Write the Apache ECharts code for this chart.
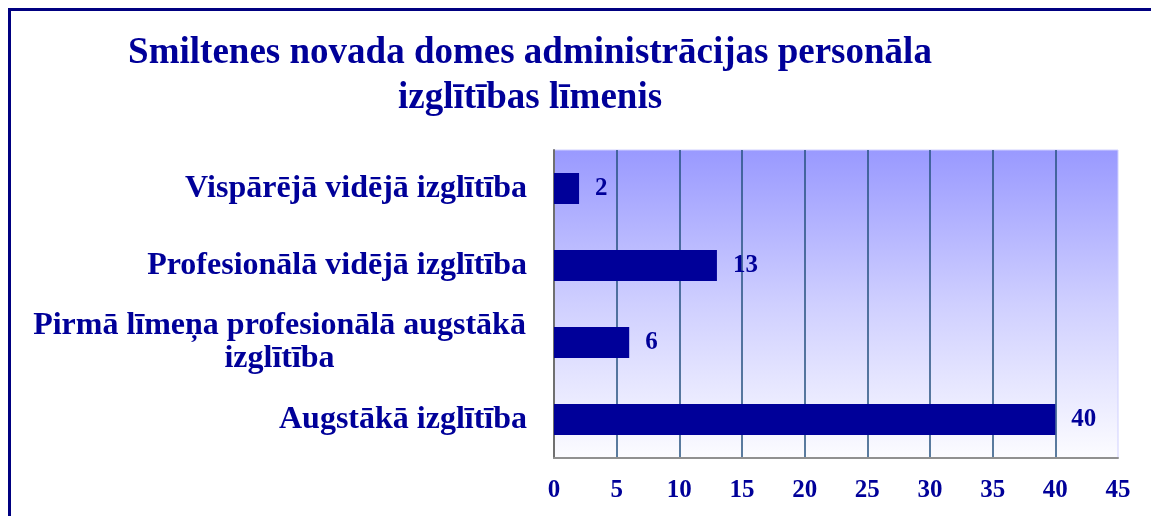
<!DOCTYPE html>
<html>
<head>
<meta charset="utf-8">
<script src="https://cdn.jsdelivr.net/npm/echarts@6/dist/echarts.min.js"></script>
<style>
html,body{margin:0;padding:0;background:#fff;}
#c{width:1151px;height:516px;}
</style>
</head>
<body>
<div id="c"></div>
<script>
var categories = ['Vispārējā vidējā izglītība', 'Profesionālā vidējā izglītība', 'Pirmā līmeņa profesionālā augstākā\nizglītība', 'Augstākā izglītība'];
var values = [2, 13, 6, 40];
var xTicks = [0, 5, 10, 15, 20, 25, 30, 35, 40, 45];

var chart = echarts.init(document.getElementById('c'));
var navy = '#000099';
var font = '"Liberation Serif", "DejaVu Serif", serif';
chart.setOption({
  animation: false,
  title: {
    text: 'Smiltenes novada domes administrācijas personāla\nizglītības līmenis',
    left: 525, top: 26, textAlign: 'center',
    textStyle: { color: navy, fontFamily: font, fontWeight: 'bold', fontSize: 37, lineHeight: 45 }
  },
  graphic: [{
    type: 'rect', silent: true,
    shape: { x: 9.5, y: 9.5, width: 1200, height: 600 },
    style: { fill: 'none', stroke: '#000080', lineWidth: 3 }
  }],
  grid: {
    left: 554, top: 150, width: 564, height: 308,
    show: true, borderColor: '#d0d0ff', borderWidth: 1,
    backgroundColor: new echarts.graphic.LinearGradient(0, 0, 0, 1, [
      { offset: 0, color: '#9999ff' },
      { offset: 0.5, color: '#cfcfff' },
      { offset: 1, color: '#fcfcff' }
    ])
  },
  xAxis: {
    type: 'value', min: 0, max: 45, interval: 5,
    axisLine: { show: true, lineStyle: { color: '#909090', width: 2 } },
    axisTick: { show: false },
    axisLabel: { color: navy, fontFamily: font, fontWeight: 'bold', fontSize: 25, margin: 20,
      formatter: function (v) { return xTicks.indexOf(v) >= 0 ? String(v) : ''; } },
    splitLine: { show: true, showMinLine: false, showMaxLine: false, lineStyle: { color: '#24507f', width: 1.5 } }
  },
  yAxis: {
    type: 'category', data: categories, inverse: true,
    axisLine: { show: true, lineStyle: { color: '#707070', width: 2 } },
    axisTick: { show: false },
    axisLabel: {
      color: navy, fontFamily: font, fontWeight: 'bold', fontSize: 32, margin: 27, lineHeight: 33,
      formatter: function (v) {
        if (v.indexOf('\n') >= 0) {
          return v.split('\n').map(function (s) { return '{c|' + s + '}'; }).join('\n');
        }
        return v;
      },
      rich: { c: { width: 495, align: 'center', color: navy, fontFamily: font, fontWeight: 'bold', fontSize: 32, lineHeight: 33 } }
    }
  },
  series: [{
    type: 'bar', data: values, barWidth: 31,
    itemStyle: { color: navy },
    label: { show: true, position: 'right', distance: 16, color: navy, fontFamily: font, fontWeight: 'bold', fontSize: 25 }
  }]
});
</script>
</body>
</html>
